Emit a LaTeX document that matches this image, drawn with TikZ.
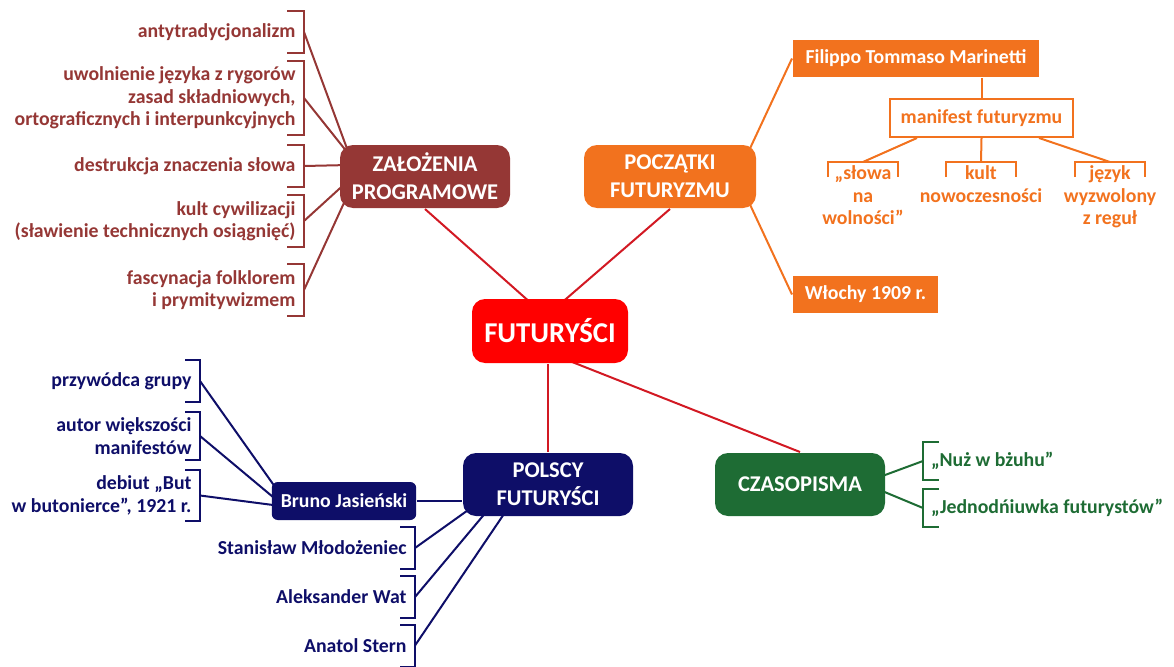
\documentclass[tikz,border=0pt]{standalone}
\usepackage{fontspec}
\setmainfont{Carlito}
\usetikzlibrary{backgrounds}
\definecolor{zalred}{RGB}{149,55,53}
\definecolor{futred}{RGB}{255,0,0}
\definecolor{linered}{RGB}{210,25,35}
\definecolor{poczor}{RGB}{242,114,30}
\definecolor{polnavy}{RGB}{14,14,104}
\definecolor{czasgreen}{RGB}{30,108,52}

\begin{document}
\begin{tikzpicture}[x=1pt, y=-1pt, line width=2pt,
  bigbox/.style={rounded corners=13pt, text=white, align=center, minimum width=170pt,
    minimum height=63pt, font=\fontsize{22.5}{28}\selectfont\bfseries},
  subbox/.style={text=white, minimum height=37pt, inner xsep=9pt,
    font=\fontsize{19.8}{22}\selectfont\bfseries},
  item/.style={align=right, anchor=east, inner xsep=7.5pt, inner ysep=5pt, minimum height=40pt,
    font=\fontsize{19.8}{22.3}\selectfont\bfseries},
  gitem/.style={align=left, anchor=west, inner xsep=7pt, minimum height=36pt, text=czasgreen,
    font=\fontsize{19.8}{22.3}\selectfont\bfseries},
  sub/.style={align=center, anchor=north, inner ysep=3pt, text=poczor,
    font=\fontsize{19.8}{22.5}\selectfont\bfseries}]
\useasboundingbox (0,0) rectangle (1174,666);

% main boxes
\node[bigbox, fill=futred, minimum width=156pt, minimum height=64pt,
  font=\fontsize{28.7}{34}\selectfont\bfseries] (fut) at (550,331) {FUTURYŚCI};
\node[bigbox, fill=zalred] (zal) at (425,176.5) {ZAŁOŻENIA\\PROGRAMOWE};
\node[bigbox, fill=poczor, minimum width=172pt] (pocz) at (670,176.5) {POCZĄTKI\\FUTURYZMU};
\node[bigbox, fill=polnavy] (pol) at (548,484.5) {POLSCY\\FUTURYŚCI};
\node[bigbox, fill=czasgreen] (czas) at (800,484.5) {CZASOPISMA};

% zalozenia
\node[item, text=zalred] (z1) at (304,32) {antytradycjonalizm};
\node[item, text=zalred] (z2) at (304,98) {uwolnienie języka z rygorów\\zasad składniowych,\\ortograficznych i interpunkcyjnych};
\node[item, text=zalred] (z3) at (304,166) {destrukcja znaczenia słowa};
\node[item, text=zalred] (z4) at (304,221) {kult cywilizacji\\(sławienie technicznych osiągnięć)};
\node[item, text=zalred] (z5) at (304,290) {fascynacja folklorem\\i prymitywizmem};
\foreach \n in {z1,z2,z3,z4,z5}
  \draw[zalred] ([xshift=-17pt]\n.north east) -| (\n.south east) -- ++(-17,0);

% poczatki
\node[subbox, fill=poczor, minimum width=246pt] (mar) at (916,58.5) {Filippo Tommaso Marinetti};
\node[subbox, fill=white, draw=poczor, text=poczor, minimum width=183pt, minimum height=38pt] (man) at (981.5,118) {manifest futuryzmu};
\node[subbox, fill=poczor, minimum width=145pt] (wlo) at (865.5,294.5) {Włochy 1909 r.};
\node[sub] (o1) at (863,162) {„słowa\\na\\wolności”};
\node[sub] (o2) at (981,162) {kult\\nowoczesności};
\node[sub] (o3) at (1110,162) {język\\wyzwolony\\z reguł};
\foreach \n in {o1,o2,o3}
  \draw[poczor] ([shift={(-35,15)}]\n.north) -- ++(0,-15) -- ++(70,0) -- ++(0,15);

% polscy futurysci
\node[subbox, fill=polnavy, rounded corners=6pt, minimum width=142pt, minimum height=38pt] (bruno) at (344,501) {Bruno Jasieński};
\node[item, text=polnavy] (b1) at (200,381) {przywódca grupy};
\node[item, text=polnavy] (b2) at (200,436) {autor większości\\manifestów};
\node[item, text=polnavy] (b3) at (200,495.5) {debiut „But\\w butonierce”, 1921 r.};
\node[item, text=polnavy] (p1) at (415,548) {Stanisław Młodożeniec};
\node[item, text=polnavy] (p2) at (415,597) {Aleksander Wat};
\node[item, text=polnavy] (p3) at (415,645.5) {Anatol Stern};
\foreach \n in {b1,b2,b3,p1,p2,p3}
  \draw[polnavy] ([xshift=-15pt]\n.north east) -| (\n.south east) -- ++(-15,0);

% czasopisma
\node[gitem] (g1) at (923,461) {„Nuż w bżuhu”};
\node[gitem] (g2) at (923,508) {„Jednodńiuwka futurystów”};
\foreach \n in {g1,g2}
  \draw[czasgreen] ([xshift=16pt]\n.north west) -| (\n.south west) -- ++(16,0);

\begin{scope}[on background layer]
\begin{scope}[line width=2pt]
\draw[linered] (zal.south) -- ([shift={(61,6)}]fut.north west);
\draw[linered] (pocz.south) -- ([shift={(88,7)}]fut.north west);
\draw[linered] (fut.south -| pol.north) -- (pol.north);
\draw[linered] ([shift={(12,-6)}]fut.south) -- (czas.north);

\draw[zalred] (z1.east) -- ([shift={(10,10)}]zal.north west);
\draw[zalred] (z2.east) -- ([shift={(12,13)}]zal.north west);
\draw[zalred] (z3.east) -- ([shift={(10,21)}]zal.north west);
\draw[zalred] (z4.east) -- ([shift={(10,36)}]zal.north west);
\draw[zalred] (z5.east) -- ([shift={(10,48)}]zal.north west);

\draw[poczor] ([shift={(-11,13)}]pocz.north east) -- (mar.west);
\draw[poczor] ([shift={(-11,-13)}]pocz.south east) -- (wlo.west);
\draw[poczor] (mar.south -| man.north) -- (man.north);
\draw[poczor] ([xshift=28pt]man.south west) -- (o1.north);
\draw[poczor] (man.south) -- (o2.north);
\draw[poczor] ([xshift=-35pt]man.south east) -- (o3.north);

\draw[polnavy] (b1.east) -- ([shift={(10,-6)}]bruno.west);
\draw[polnavy] (b2.east) -- ([shift={(7,0)}]bruno.west);
\draw[polnavy] (b3.east) -- ([shift={(10,5)}]bruno.west);
\draw[polnavy] (bruno.east) -- (bruno.east -| pol.west);
\draw[polnavy] (p1.east) -- ([shift={(9,-9)}]pol.south west);
\draw[polnavy] (p2.east) -- ([shift={(25,-6)}]pol.south west);
\draw[polnavy] (p3.east) -- ([shift={(44,-6)}]pol.south west);

\draw[czasgreen] ([shift={(-5,-8)}]czas.east) -- (g1.west);
\draw[czasgreen] ([shift={(-5,6)}]czas.east) -- (g2.west);
\end{scope}
\end{scope}
\end{tikzpicture}
\end{document}
